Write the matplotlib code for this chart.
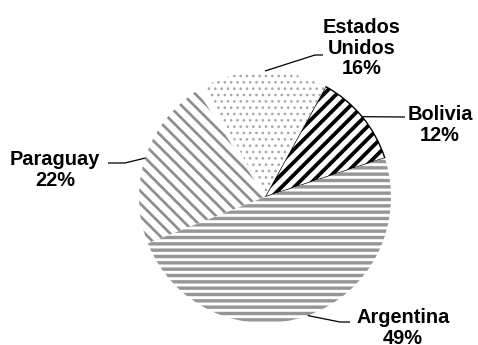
import numpy as np
import matplotlib.pyplot as plt

# data, counterclockwise from the Bolivia slice
names = ['Bolivia', 'Estados\nUnidos', 'Otros', 'Paraguay', 'Argentina']
shares = [12, 16, 1, 22, 49]
show_label = [True, True, False, True, True]

hatches = ['//', '..', '', '\\\\', '--']
hatch_colors = ['black', '#a8a8a8', 'white', '#8f8f8f', '#969696']
hatch_widths = [3.6, 1.3, 1.0, 2.6, 3.2]
edge_widths = [1.3, 0, 0, 0, 0]

# label layout in picture pixels (x, y from top): text centre, elbow, line end
label_pos = {'Bolivia': (440, 125), 'Estados\nUnidos': (362, 48),
             'Paraguay': (55, 170), 'Argentina': (403, 328)}
elbows = {'Bolivia': (405, 117), 'Estados\nUnidos': (315, 55),
          'Paraguay': (125, 163), 'Argentina': (340, 322)}
ends = {'Bolivia': 405, 'Estados\nUnidos': 323, 'Paraguay': 108, 'Argentina': 350}

W, H, DPI = 478, 345, 76
CX, CY, R = 265, 197, 126


def py(y):
    return H - y


fig = plt.figure(figsize=(W / DPI, H / DPI), dpi=DPI)
ax = fig.add_axes([0, 0, 1, 1])

wedges, _ = ax.pie(shares, startangle=18, counterclock=True,
                   center=(CX, py(CY)), radius=R,
                   colors=['white'] * len(shares))

for w, h, hc, hw, ew in zip(wedges, hatches, hatch_colors, hatch_widths, edge_widths):
    w.set_edgecolor(hc)
    w.set_hatch(h)
    if hasattr(w, 'set_hatch_linewidth'):
        w.set_hatch_linewidth(hw)
    w.set_linewidth(ew)

for w, name, val, show in zip(wedges, names, shares, show_label):
    if not show:
        continue
    mid = np.deg2rad((w.theta1 + w.theta2) / 2)
    sx, sy = CX + R * np.cos(mid), py(CY) + R * np.sin(mid)
    ex, ey = elbows[name]
    ax.plot([sx, ex, ends[name]], [sy, py(ey), py(ey)], color='black', lw=1.2,
            solid_capstyle='butt')
    tx, ty = label_pos[name]
    ax.text(tx, py(ty), f'{name}\n{val}%', ha='center', va='center',
            fontsize=18.9, fontweight='bold', family='Liberation Sans',
            linespacing=1.08)

ax.set_xlim(0, W)
ax.set_ylim(0, H)
ax.set_aspect('equal')
ax.axis('off')

fig.savefig('out.png', dpi=DPI, facecolor='white')
